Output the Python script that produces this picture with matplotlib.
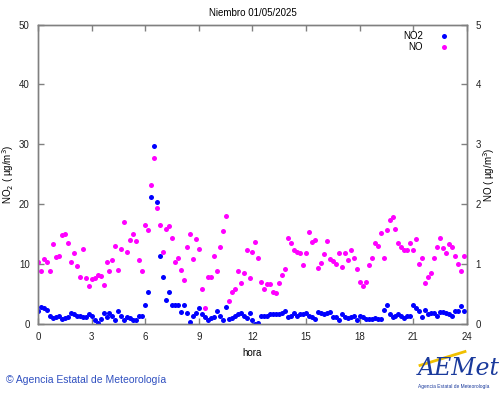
import matplotlib
matplotlib.use('Agg')
import matplotlib.pyplot as plt
import numpy as np

plt.rcParams['font.family'] = ['Liberation Sans', 'DejaVu Sans']

# 10-minute readings, 00:00 .. 23:50
no2 = [2.2, 2.9, 2.7, 2.3, 1.4, 1.0, 1.2, 1.3, 0.8, 1.0, 1.2, 1.9, 1.7, 1.4, 1.3, 1.1, 1.2, 1.6,
       1.3, 0.7, 0.2, 0.8, 1.8, 1.2, 1.9, 1.3, 0.7, 2.1, 1.3, 0.7, 1.2, 1.0, 0.7, 0.6, 1.3, 1.4,
       3.2, 5.4, 21.2, 29.7, 20.3, 11.4, 7.8, 4.0, 5.3, 3.1, 3.1, 3.2, 2.0, 3.1, 1.8, 0.4, 1.4, 1.9,
       2.6, 1.7, 1.2, 0.7, 1.0, 1.1, 2.2, 1.3, 0.7, 2.8, 0.9, 1.0, 1.3, 1.6, 1.9, 1.3, 1.0, 1.9,
       0.6, 0.0, 0.2, 1.4, 1.4, 1.4, 1.7, 1.6, 1.7, 1.7, 1.9, 2.1, 1.2, 1.3, 1.8, 1.3, 1.6, 1.7,
       1.9, 1.4, 1.2, 0.8, 2.0, 1.9, 1.7, 1.9, 2.0, 1.2, 1.2, 0.6, 1.6, 1.2, 1.0, 1.2, 1.3, 0.7,
       1.4, 1.2, 0.8, 0.8, 0.9, 1.0, 0.9, 0.8, 2.4, 3.2, 1.7, 1.2, 1.3, 1.7, 1.3, 1.0, 1.3, 1.3,
       3.1, 2.6, 2.2, 1.1, 2.4, 1.7, 1.9, 1.8, 1.3, 2.0, 2.0, 1.8, 1.7, 1.4, 2.2, 2.1, 3.0, 2.2]
no = [1.04, 0.89, 1.08, 1.04, 0.88, 1.33, 1.12, 1.14, 1.48, 1.50, 1.36, 1.03, 1.19, 0.97, 0.79, 1.25,
      0.77, 0.64, 0.76, 0.77, 0.82, 0.80, 0.65, 1.03, 0.88, 1.07, 1.31, 0.91, 1.26, 1.71, 1.21, 1.41,
      1.50, 1.38, 1.07, 0.89, 1.66, 1.57, 2.32, 2.77, 1.93, 1.66, 1.21, 1.59, 1.64, 1.44, 1.03, 1.11,
      0.91, 0.74, 1.29, 1.51, 1.08, 1.42, 1.25, 0.59, 0.26, 0.78, 0.78, 1.13, 0.89, 1.28, 1.56, 1.80,
      0.38, 0.54, 0.59, 0.88, 0.69, 0.86, 1.23, 0.77, 1.21, 1.37, 1.11, 0.71, 0.59, 0.66, 0.66, 0.53,
      0.51, 0.69, 0.82, 0.92, 1.43, 1.35, 1.23, 1.20, 1.18, 0.98, 1.19, 1.53, 1.37, 1.41, 0.94, 1.02,
      1.17, 1.39, 1.09, 1.06, 1.00, 1.19, 0.96, 1.19, 1.07, 1.23, 1.11, 0.92, 0.70, 0.63, 0.70, 0.98,
      1.10, 1.36, 1.31, 1.52, 1.10, 1.57, 1.73, 1.78, 1.58, 1.36, 1.29, 1.24, 1.24, 1.36, 1.24, 1.42,
      1.01, 1.10, 0.69, 0.78, 0.86, 1.11, 1.29, 1.43, 1.27, 1.18, 1.34, 1.29, 1.14, 1.01, 0.89, 1.13]
hours = np.arange(len(no2)) / 6.0

xticks = [0, 3, 6, 9, 12, 15, 18, 21, 24]
frame = '#808080'

fig = plt.figure(figsize=(5, 3.95), dpi=100)
ax = fig.add_axes([0.076, 0.1797, 0.858, 0.758])
ax2 = ax.twinx()

ax.plot(hours, no2, 'o', color='#0000ff', markersize=3.6, markeredgewidth=0, label='NO2', zorder=3)
ax2.plot(hours, no, 'o', color='#ff00ff', markersize=3.6, markeredgewidth=0, label='NO', zorder=2)

ax.set_xlim(0, 24)
ax.set_ylim(0, 50)
ax2.set_ylim(0, 5)
ax.set_xticks(xticks)
ax.set_yticks(range(0, 51, 10))
ax2.set_yticks(range(0, 6))

for a in (ax, ax2):
    for s in a.spines.values():
        s.set_color(frame)
        s.set_linewidth(1.0)
    a.tick_params(direction='in', length=4, width=1, color=frame, labelsize=7, labelcolor='#222222', pad=6)
ax.tick_params(axis='x', top=True)

ax.set_title('Niembro 01/05/2025', fontsize=7, pad=6)
ax.set_xlabel('hora', fontsize=7, labelpad=4)
ax.set_ylabel('NO$_2$ ( µg/m$^3$)', fontsize=7)
ax2.set_ylabel('NO ( µg/m$^3$)', fontsize=7)
ax.yaxis.set_label_coords(-0.052, 0.5)
ax2.yaxis.set_label_coords(1.034, 0.5)

h1, l1 = ax.get_legend_handles_labels()
h2, l2 = ax2.get_legend_handles_labels()
ax2.legend(h1 + h2, l1 + l2, loc='upper right', frameon=False, markerfirst=False,
           fontsize=7, handletextpad=1.2, labelspacing=0.1, borderaxespad=0.3,
           bbox_to_anchor=(0.985, 1.0))

fig.text(0.012, 0.03, '© Agencia Estatal de Meteorología', color='#3050c0', fontsize=7.5)
fig.text(0.835, 0.05, 'AEMet', color='#1a3a9c', fontsize=17, style='italic', family='DejaVu Serif')
fig.text(0.835, 0.018, 'Agencia Estatal de Meteorología', color='#1a3a9c', fontsize=3.5)
fig.lines.append(plt.Line2D([0.84, 0.93], [0.075, 0.11], transform=fig.transFigure,
                            color='#f0c000', lw=2))

fig.savefig('out.png', dpi=100)
